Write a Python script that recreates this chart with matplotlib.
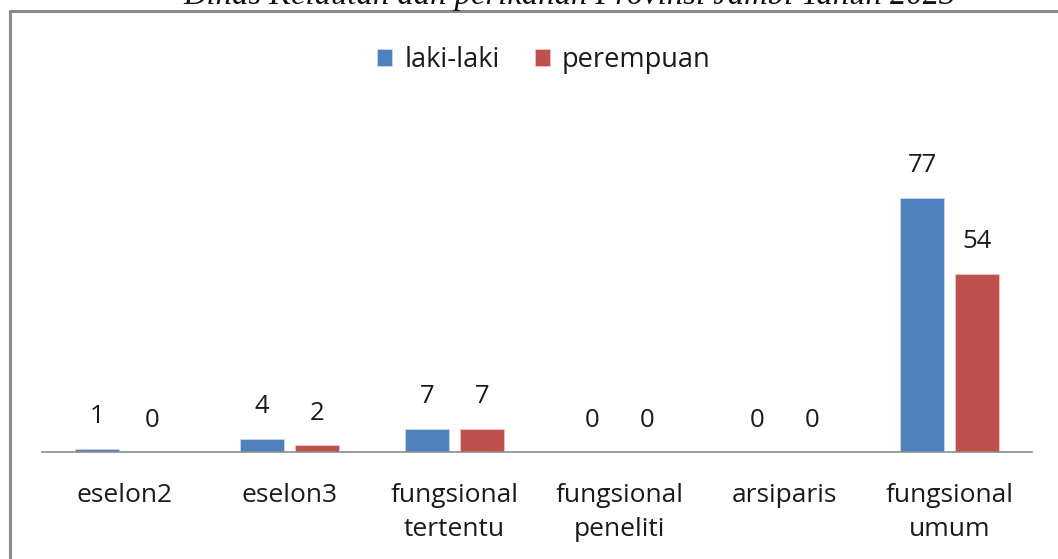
import matplotlib
matplotlib.use("Agg")
import matplotlib.pyplot as plt
from matplotlib.patches import Rectangle
import numpy as np

categories = ["eselon2", "eselon3", "fungsional\ntertentu", "fungsional\npeneliti", "arsiparis", "fungsional\numum"]
laki = [1, 4, 7, 0, 0, 77]
perempuan = [0, 2, 7, 0, 0, 54]
series_names = ["laki-laki", "perempuan"]
title = "Dinas Kelautan dan perikanan Provinsi Jambi Tahun 2023"

W, H = 1058, 559
fig = plt.figure(figsize=(W / 100, H / 100), dpi=100)
plt.rcParams['font.family'] = ['Open Sans', 'DejaVu Sans']

x0, x1 = 42, 1032
base = 452
ppu = 3.30
ytop = 100
ax = fig.add_axes([x0 / W, (H - base) / H, (x1 - x0) / W, ytop * ppu / H])
ax.set_xlim(-0.5, len(categories) - 0.5)
ax.set_ylim(0, ytop)

blue = "#4f81bd"
red = "#c0504d"
x = np.arange(len(categories))
bw = 0.267
off = 0.166
b1 = ax.bar(x - off, laki, bw, color=blue, edgecolor="#c9d7ea", linewidth=0.6, label=series_names[0])
b2 = ax.bar(x + off, perempuan, bw, color=red, edgecolor="#ebc6c5", linewidth=0.6, label=series_names[1])

for bars, vals in ((b1, laki), (b2, perempuan)):
    for r, v in zip(bars, vals):
        ax.annotate(str(v), (r.get_x() + r.get_width() / 2, v), xytext=(0, 14),
                    textcoords="offset points", ha="center", va="bottom",
                    fontsize=18.5, color="#1a1a1a")

for s in ["top", "right", "left"]:
    ax.spines[s].set_visible(False)
ax.spines["bottom"].set_color("#8c8c8c")
ax.spines["bottom"].set_linewidth(1.2)
ax.set_yticks([])
ax.set_xticks(x)
ax.set_xticklabels(categories, fontsize=19, color="#1a1a1a", linespacing=1.52)
ax.tick_params(axis="x", length=0, pad=22)

leg = fig.legend(handles=[b1, b2], labels=series_names, loc="center",
                 bbox_to_anchor=(544 / W, (H - 60) / H), ncol=2, frameon=False,
                 fontsize=19.5, handlelength=0.55, handleheight=0.55,
                 handletextpad=0.45, columnspacing=1.3)
for t in leg.get_texts():
    t.set_color("#1a1a1a")

fig.add_artist(Rectangle((10 / W, -0.1), 1.2, (H - 11) / H + 0.1, transform=fig.transFigure,
                         fill=False, edgecolor="#8a8a8a", linewidth=2.2))

fig.text(570 / W, (H - 11) / H, title, ha="center", va="bottom",
         family=["Liberation Serif", "DejaVu Serif"], style="italic",
         fontsize=23.5, color="#111111")

fig.savefig("out.png", dpi=100)
